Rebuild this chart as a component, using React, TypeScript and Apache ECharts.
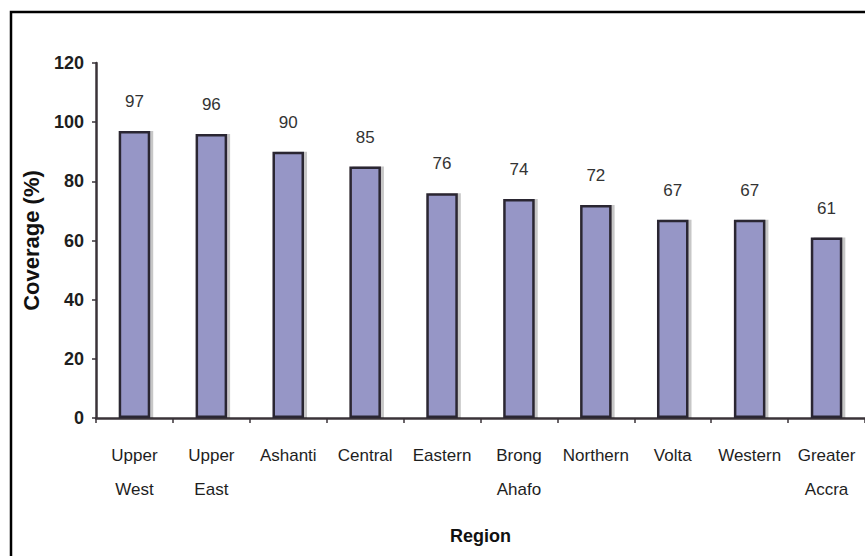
import React, { useEffect, useRef } from "react";
import * as echarts from "echarts";

const categories = [
  "Upper\nWest",
  "Upper\nEast",
  "Ashanti",
  "Central",
  "Eastern",
  "Brong\nAhafo",
  "Northern",
  "Volta",
  "Western",
  "Greater\nAccra",
];
const coverage = [97, 96, 90, 85, 76, 74, 72, 67, 67, 61];
const yTicks = { min: 0, max: 120, interval: 20 };

const FONT = "'Liberation Sans', Arial, sans-serif";

export default function App() {
  const ref = useRef<HTMLDivElement>(null);
  useEffect(() => {
    document.body.style.margin = "0";
    const chart = echarts.init(ref.current!, null, { renderer: "svg" });
    chart.setOption({
      animation: false,
      backgroundColor: "#ffffff",
      textStyle: { fontFamily: FONT },
      graphic: [
        {
          type: "rect",
          shape: { x: 11, y: 12, width: 900, height: 600 },
          style: { fill: "none", stroke: "#000", lineWidth: 2.5 },
          silent: true,
          z: 100,
        },
      ],
      grid: { left: 96, top: 63, width: 773, height: 355 },
      xAxis: {
        type: "category",
        data: categories,
        name: "Region",
        nameLocation: "middle",
        nameGap: 109,
        nameTextStyle: { fontSize: 18, fontWeight: "bold", color: "#111", fontFamily: FONT },
        axisLine: { lineStyle: { color: "#3a3338", width: 2.5 } },
        axisTick: { show: true, length: 5, lineStyle: { color: "#3a3338", width: 1.5 } },
        axisLabel: {
          interval: 0,
          margin: 20,
          fontSize: 17,
          lineHeight: 34,
          color: "#1e1e1e",
          verticalAlign: "top",
          fontFamily: FONT,
        },
      },
      yAxis: {
        type: "value",
        min: yTicks.min,
        max: yTicks.max,
        interval: yTicks.interval,
        name: "Coverage (%)",
        nameLocation: "middle",
        nameGap: 54,
        nameRotate: 90,
        nameTextStyle: { fontSize: 22, fontWeight: "bold", color: "#111", fontFamily: FONT },
        axisLine: { show: true, lineStyle: { color: "#3a3338", width: 2.5 } },
        axisTick: { show: true, length: 4, lineStyle: { color: "#3a3338", width: 1.5 } },
        axisLabel: { margin: 12, fontSize: 18, fontWeight: "bold", color: "#1e1e1e", fontFamily: FONT },
        splitLine: { show: false },
      },
      series: [
        {
          type: "bar",
          data: coverage,
          barWidth: "41%",
          itemStyle: {
            color: "#9696c6",
            borderColor: "#2b2630",
            borderWidth: 2.5,
            shadowColor: "rgba(0,0,0,0.22)",
            shadowOffsetX: 3,
            shadowOffsetY: 0,
            shadowBlur: 0,
          },
          label: {
            show: true,
            position: "top",
            distance: 21,
            fontSize: 17,
            color: "#333",
            fontFamily: FONT,
          },
        },
      ],
    });
    return () => chart.dispose();
  }, []);
  return <div ref={ref} style={{ width: 865, height: 556 }} />;
}
